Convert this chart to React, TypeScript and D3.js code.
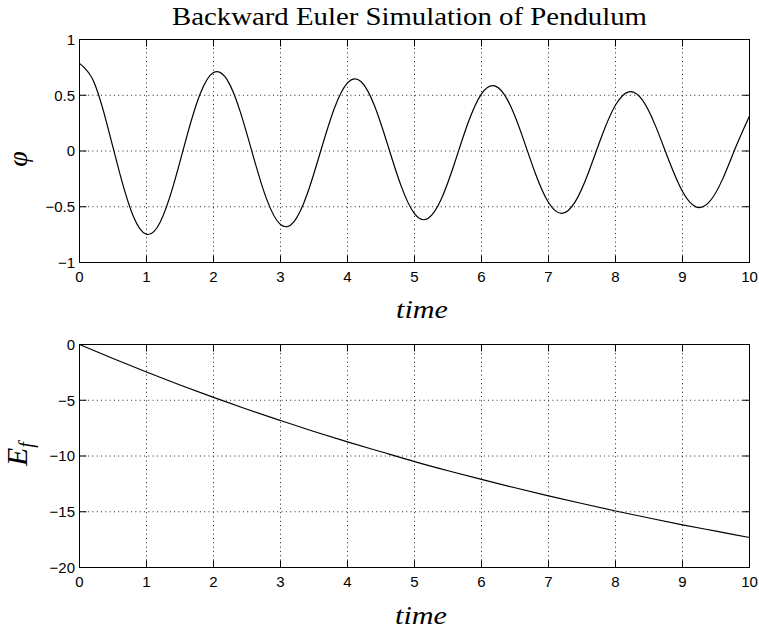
import React from "react";
import * as d3 from "d3";

// ---------- data ----------
const TITLE = "Backward Euler Simulation of Pendulum";
const X_LABEL = "time";

const xTicks = [0, 1, 2, 3, 4, 5, 6, 7, 8, 9, 10];
const xTickLabels = ["0", "1", "2", "3", "4", "5", "6", "7", "8", "9", "10"];

const phiTicks = [-1, -0.5, 0, 0.5, 1];
const phiTickLabels = ["\u22121", "\u22120.5", "0", "0.5", "1"];

const energyTicks = [-20, -15, -10, -5, 0];
const energyTickLabels = ["\u221220", "\u221215", "\u221210", "\u22125", "0"];

const phiTime = [
  0, 0.2, 0.4, 0.6, 0.8, 1, 1.2, 1.4, 1.6, 1.8, 2, 2.2, 2.4, 2.6, 2.8, 3, 3.2,
  3.4, 3.6, 3.8, 4, 4.2, 4.4, 4.6, 4.8, 5, 5.2, 5.4, 5.6, 5.8, 6, 6.2, 6.4, 6.6,
  6.8, 7, 7.2, 7.4, 7.6, 7.8, 8, 8.2, 8.4, 8.6, 8.8, 9, 9.2, 9.4, 9.6, 9.8, 10,
];
const phiValues = [
  0.786, 0.638, 0.264, -0.198, -0.58, -0.747, -0.643, -0.311, 0.127, 0.511,
  0.704, 0.642, 0.351, -0.061, -0.443, -0.659, -0.635, -0.384, 0.0, 0.377,
  0.611, 0.623, 0.41, 0.055, -0.313, -0.562, -0.606, -0.431, -0.105, 0.253,
  0.513, 0.584, 0.445, 0.149, -0.195, -0.462, -0.559, -0.454, -0.188, 0.141,
  0.412, 0.531, 0.458, 0.221, -0.09, -0.363, -0.501, -0.457, -0.25, 0.043,
  0.315,
];

const energyTime = [
  0, 0.5, 1, 1.5, 2, 2.5, 3, 3.5, 4, 4.5, 5, 5.5, 6, 6.5, 7, 7.5, 8, 8.5, 9,
  9.5, 10,
];
const energyValues = [
  0, -1.26, -2.47, -3.63, -4.74, -5.81, -6.82, -7.8, -8.73, -9.62, -10.5,
  -11.32, -12.1, -12.85, -13.57, -14.26, -14.93, -15.56, -16.17, -16.74,
  -17.31,
];

// ---------- layout ----------
const W = 759;
const H = 631;
const X0 = 79.5;
const X1 = 749.5;
const TICK = 7;
const SANS = "'Liberation Sans', Arial, Helvetica, sans-serif";
const SERIF = "'Liberation Serif', 'Times New Roman', serif";

const xScale = d3.scaleLinear().domain([0, 10]).range([X0, X1]);

type PanelProps = {
  top: number;
  bottom: number;
  domain: [number, number];
  ticks: number[];
  tickLabels: string[];
  time: number[];
  values: number[];
  curve: d3.CurveFactory;
};

function Panel({ top, bottom, domain, ticks, tickLabels, time, values, curve }: PanelProps) {
  const y = d3.scaleLinear().domain(domain).range([bottom, top]);
  const pts: [number, number][] = time.map((t, i) => [t, values[i]]);
  const line = d3
    .line<[number, number]>()
    .x((d) => xScale(d[0]))
    .y((d) => y(d[1]))
    .curve(curve);
  const grid = { stroke: "#222", strokeWidth: 1, strokeDasharray: "1 3.3" };
  return (
    <g>
      {xTicks.map((t) => (
        <line key={"gx" + t} x1={xScale(t)} x2={xScale(t)} y1={top} y2={bottom} {...grid} />
      ))}
      {ticks.map((t) => (
        <line key={"gy" + t} x1={X0} x2={X1} y1={y(t)} y2={y(t)} {...grid} />
      ))}
      {xTicks.map((t) => (
        <g key={"tx" + t}>
          <line x1={xScale(t)} x2={xScale(t)} y1={bottom} y2={bottom - TICK} stroke="#000" />
          <line x1={xScale(t)} x2={xScale(t)} y1={top} y2={top + TICK} stroke="#000" />
        </g>
      ))}
      {ticks.map((t) => (
        <g key={"ty" + t}>
          <line x1={X0} x2={X0 + TICK} y1={y(t)} y2={y(t)} stroke="#000" />
          <line x1={X1} x2={X1 - TICK} y1={y(t)} y2={y(t)} stroke="#000" />
        </g>
      ))}
      <rect x={X0} y={top} width={X1 - X0} height={bottom - top} fill="none" stroke="#000" strokeWidth={1} />
      <path d={line(pts) || ""} fill="none" stroke="#000" strokeWidth={1.2} />
      {xTicks.map((t, i) => (
        <text
          key={"lx" + t}
          x={xScale(t)}
          y={bottom + 19.5}
          textAnchor="middle"
          fontFamily={SANS}
          fontSize={15}
          fill="#000"
        >
          {xTickLabels[i]}
        </text>
      ))}
      {ticks.map((t, i) => (
        <text
          key={"ly" + t}
          x={75}
          y={y(t)}
          dy="0.36em"
          textAnchor="end"
          fontFamily={SANS}
          fontSize={15}
          fill="#000"
        >
          {tickLabels[i]}
        </text>
      ))}
    </g>
  );
}

export default function App() {
  return (
    <svg
      width={W}
      height={H}
      viewBox={`0 0 ${W} ${H}`}
      style={{ position: "absolute", left: 0, top: 0, background: "#fff" }}
    >
      <rect x={0} y={0} width={W} height={H} fill="#fff" />
      <text
        x={409.5}
        y={25}
        textAnchor="middle"
        fontFamily={SERIF}
        fontSize={26}
        textLength={475}
        lengthAdjust="spacingAndGlyphs"
        fill="#000"
      >
        {TITLE}
      </text>

      <Panel
        top={39.5}
        bottom={262.5}
        domain={[-1, 1]}
        ticks={phiTicks}
        tickLabels={phiTickLabels}
        time={phiTime}
        values={phiValues}
        curve={d3.curveNatural}
      />
      <Panel
        top={344.5}
        bottom={567.5}
        domain={[-20, 0]}
        ticks={energyTicks}
        tickLabels={energyTickLabels}
        time={energyTime}
        values={energyValues}
        curve={d3.curveMonotoneX}
      />

      <text
        x={422}
        y={318}
        textAnchor="middle"
        fontFamily={SERIF}
        fontStyle="italic"
        fontSize={26}
        textLength={52}
        lengthAdjust="spacingAndGlyphs"
        fill="#000"
      >
        {X_LABEL}
      </text>
      <text
        x={421}
        y={624}
        textAnchor="middle"
        fontFamily={SERIF}
        fontStyle="italic"
        fontSize={25}
        textLength={52}
        lengthAdjust="spacingAndGlyphs"
        fill="#000"
      >
        {X_LABEL}
      </text>

      <text
        transform="translate(27,159) rotate(-90)"
        textAnchor="middle"
        fontFamily={SERIF}
        fontStyle="italic"
        fontSize={28}
        fill="#000"
      >
        {"\u03C6"}
      </text>
      <text
        transform="translate(26.5,454) rotate(-90)"
        textAnchor="middle"
        fontFamily={SERIF}
        fontStyle="italic"
        fontSize={30}
        fill="#000"
      >
        <tspan>E</tspan>
        <tspan fontSize={20} dy={6}>
          f
        </tspan>
      </text>
    </svg>
  );
}
